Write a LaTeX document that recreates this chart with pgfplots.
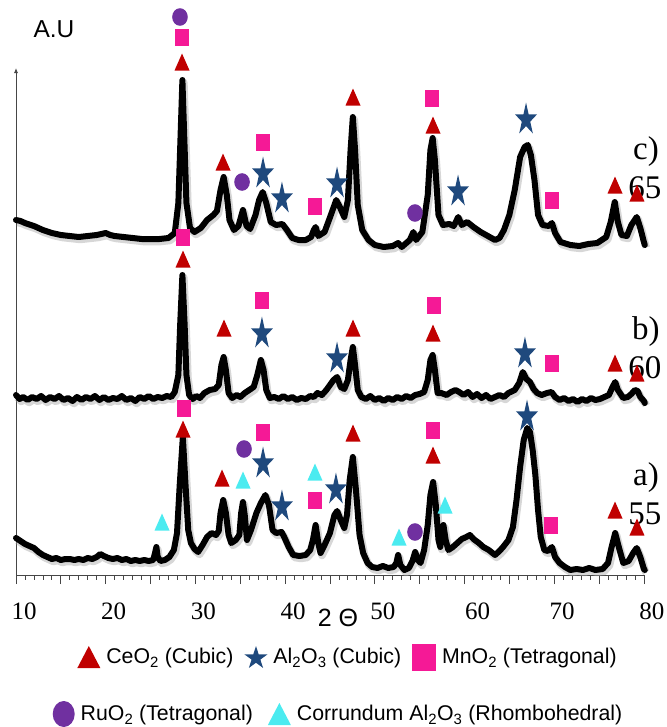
\documentclass[border=0pt]{standalone}
\usepackage{pgfplots}
\pgfplotsset{compat=1.18}
\usepackage{pgfplotstable}
\usepackage{fontspec}
\setmainfont{Liberation Serif}
\setsansfont{Liberation Sans}
\usetikzlibrary{arrows.meta}

\definecolor{cered}{RGB}{192,0,0}
\definecolor{alblue}{RGB}{31,73,125}
\definecolor{mnpink}{RGB}{245,25,150}
\definecolor{rupurple}{RGB}{112,48,160}
\definecolor{corcyan}{RGB}{75,235,240}
\definecolor{axgray}{RGB}{70,70,70}

% plot marks
\pgfdeclareplotmark{ptri}{%
  \pgfsetcornersarced{\pgfqpoint{1.5bp}{1.5bp}}%
  \pgfpathmoveto{\pgfqpoint{0bp}{8.5bp}}%
  \pgfpathlineto{\pgfqpoint{7.5bp}{-8.5bp}}%
  \pgfpathlineto{\pgfqpoint{-7.5bp}{-8.5bp}}%
  \pgfpathclose\pgfusepathqfill}
\pgfdeclareplotmark{psq}{%
  \pgfsetcornersarced{\pgfqpoint{2.5bp}{2.5bp}}%
  \pgfpathrectangle{\pgfqpoint{-7.3bp}{-8.5bp}}{\pgfqpoint{14.6bp}{17bp}}%
  \pgfusepathqfill}
\pgfdeclareplotmark{pcirc}{%
  \pgfpathellipse{\pgfpointorigin}{\pgfqpoint{7.8bp}{0bp}}{\pgfqpoint{0bp}{8.8bp}}%
  \pgfusepathqfill}
\pgfdeclareplotmark{pstar}{%
  \pgfpathmoveto{\pgfqpoint{0bp}{15.5bp}}%
  \pgfpathlineto{\pgfqpoint{-2.60bp}{3.68bp}}%
  \pgfpathlineto{\pgfqpoint{-11.03bp}{3.68bp}}%
  \pgfpathlineto{\pgfqpoint{-4.21bp}{-3.62bp}}%
  \pgfpathlineto{\pgfqpoint{-6.82bp}{-15.43bp}}%
  \pgfpathlineto{\pgfqpoint{0bp}{-8.13bp}}%
  \pgfpathlineto{\pgfqpoint{6.82bp}{-15.43bp}}%
  \pgfpathlineto{\pgfqpoint{4.21bp}{-3.62bp}}%
  \pgfpathlineto{\pgfqpoint{11.03bp}{3.68bp}}%
  \pgfpathlineto{\pgfqpoint{2.60bp}{3.68bp}}%
  \pgfpathclose\pgfusepathqfill}
% legend marks
\pgfdeclareplotmark{ltri}{%
  \pgfsetcornersarced{\pgfqpoint{1.5bp}{1.5bp}}%
  \pgfpathmoveto{\pgfqpoint{0bp}{11bp}}%
  \pgfpathlineto{\pgfqpoint{11.5bp}{-11bp}}%
  \pgfpathlineto{\pgfqpoint{-11.5bp}{-11bp}}%
  \pgfpathclose\pgfusepathqfill}
\pgfdeclareplotmark{lsq}{%
  \pgfsetcornersarced{\pgfqpoint{3bp}{3bp}}%
  \pgfpathrectangle{\pgfqpoint{-12bp}{-13.5bp}}{\pgfqpoint{24bp}{27bp}}%
  \pgfusepathqfill}
\pgfdeclareplotmark{lcirc}{%
  \pgfpathellipse{\pgfpointorigin}{\pgfqpoint{11bp}{0bp}}{\pgfqpoint{0bp}{13bp}}%
  \pgfusepathqfill}
\pgfdeclareplotmark{lstar}{%
  \pgfpathmoveto{\pgfqpoint{0bp}{10.95bp}}%
  \pgfpathlineto{\pgfqpoint{-2.72bp}{2.59bp}}%
  \pgfpathlineto{\pgfqpoint{-11.5bp}{2.59bp}}%
  \pgfpathlineto{\pgfqpoint{-4.39bp}{-2.58bp}}%
  \pgfpathlineto{\pgfqpoint{-7.11bp}{-10.94bp}}%
  \pgfpathlineto{\pgfqpoint{0bp}{-5.77bp}}%
  \pgfpathlineto{\pgfqpoint{7.11bp}{-10.94bp}}%
  \pgfpathlineto{\pgfqpoint{4.39bp}{-2.58bp}}%
  \pgfpathlineto{\pgfqpoint{11.5bp}{2.59bp}}%
  \pgfpathlineto{\pgfqpoint{2.72bp}{2.59bp}}%
  \pgfpathclose\pgfusepathqfill}

% ---------------- data ----------------
\pgfplotstableread{
x y
10 355
10.5 354
11 352
12 349
13 345
14 342
15 340
16 339
17 338
18 339
19 340
20 342
20.5 340
21 339
22 338
23 337
24 336
25 336
26 336
27 337
27.7 342
28.1 372
28.35 440
28.55 495
28.75 440
29.0 372
29.4 347
29.9 343
30.6 347
31.3 355
32.0 360
32.4 364
32.8 385
33.15 398
33.5 380
33.8 355
34.3 345
34.8 349
35.3 365
35.7 349
36.1 346
36.7 360
37.1 375
37.5 383
37.9 372
38.4 353
39.0 350
39.7 351
40.2 345
40.8 337
41.5 335
42.3 335
42.9 338
43.2 345
43.4 348
43.7 339
44.4 343
45.1 360
45.7 375
46.1 368
46.6 358
47.0 375
47.3 425
47.55 458
47.8 425
48.1 370
48.6 345
49.3 335
50 330
51 328
52 329
52.6 332
53 328
53.9 335
54.3 343
54.6 335
55.3 343
55.9 380
56.2 425
56.45 437
56.7 415
57.1 360
57.6 350
58.3 351
58.8 349
59.3 358
59.7 350
60.3 353
61.0 348
61.8 343
62.6 339
63.4 335
63.9 337
64.4 345
65.0 360
65.6 385
66.2 418
66.7 428
67.05 430
67.4 420
67.8 395
68.2 360
68.7 350
69.4 349
69.75 352
70.1 342
70.7 333
71.8 330
72.8 329
73.8 331
74.8 332
75.8 338
76.3 353
76.75 373
77.1 353
77.5 340
78.1 339
78.6 350
79.2 358
79.6 347
80.0 333
80.1 330
}\tracec

\pgfplotstableread{
x y
10 180
10.4 176
10.8 178
11.3 175
11.8 178
12.3 176
12.8 179
13.3 175
13.8 178
14.3 176
14.8 179
15.3 175
15.8 177
16.3 174
16.8 178
17.3 175
17.8 178
18.3 176
18.8 179
19.3 175
19.8 178
20.3 175
20.8 177
21.3 176
21.8 179
22.3 175
22.8 177
23.3 174
23.8 178
24.3 176
24.8 179
25.3 176
25.8 178
26.3 177
26.8 179
27.3 178
27.7 183
28.1 200
28.3 250
28.55 300
28.8 250
29.0 200
29.3 180
29.7 176
30.1 179
30.5 177
31.0 182
31.6 185
32.2 186
32.6 190
32.9 210
33.15 218
33.4 205
33.7 182
34.1 177
34.6 180
35.0 178
35.5 182
36.0 185
36.5 188
36.9 200
37.3 215
37.6 205
37.9 185
38.3 177
38.8 178
39.3 176
39.8 179
40.3 176
40.8 178
41.3 175
41.8 177
42.3 176
42.8 179
43.2 178
43.6 182
44.1 180
44.6 185
45.0 190
45.4 195
45.8 198
46.2 188
46.6 186
47.0 195
47.3 215
47.55 228
47.8 210
48.1 185
48.5 178
49.0 176
49.5 179
50.0 175
50.5 177
51.0 174
51.5 177
52.0 175
52.5 178
53.0 176
53.5 179
54.0 177
54.5 180
55.0 181
55.5 183
55.9 195
56.2 215
56.45 220
56.7 205
57.0 182
57.4 182
58.0 180
58.5 183
59.0 185
59.4 183
59.9 180
60.4 183
60.9 178
61.4 181
61.9 177
62.4 180
62.9 176
63.4 178
63.9 180
64.4 178
64.9 182
65.6 185
66.1 192
66.5 203
66.9 196
67.3 193
67.7 186
68.1 182
68.6 180
69.2 182
69.7 183
70.1 178
70.6 175
71.1 177
71.6 174
72.1 176
72.6 173
73.1 176
73.6 174
74.1 177
74.6 175
75.1 176
75.6 178
76.1 180
76.5 188
76.8 193
77.1 185
77.7 177
78.2 178
78.6 181
79.0 185
79.3 184
79.6 178
80.0 174
80.1 172
}\traceb

\pgfplotstableread{
x y
10.0 37
10.5 34
11.0 31
11.5 29
12.0 27
12.5 23
13.0 20
13.5 18
14.0 16
14.5 17
15.0 15
15.5 16
16.0 16
16.5 15
17.0 16
17.5 15
18.0 17
18.5 16
19.0 18
19.4 21
19.8 19
20.3 17
20.8 16
21.3 17
21.8 15
22.3 16
22.8 14
23.3 15
23.8 14
24.3 15
24.8 14
25.3 15
25.5 22
25.65 28
25.8 18
26.1 14
26.6 15
27.1 18
27.6 25
27.95 42
28.25 90
28.6 138
28.9 90
29.2 45
29.5 32
29.9 26
30.3 23
30.8 30
31.3 38
31.8 42
32.3 40
32.6 44
32.8 62
33.1 75
33.4 62
33.7 40
34.0 32
34.5 35
34.9 40
35.1 62
35.3 73
35.5 60
35.75 35
36.2 45
36.8 62
37.3 72
37.8 80
38.2 70
38.6 45
39.0 42
39.6 43
39.9 38
40.4 28
40.9 20
41.6 19
42.3 20
42.8 25
43.1 35
43.4 50
43.7 32
43.95 22
44.4 30
45.0 42
45.5 60
45.8 64
46.2 55
46.6 47
46.9 60
47.2 95
47.55 118
47.9 85
48.3 40
48.7 22
49.2 12
49.7 8
50.3 7
50.9 9
51.5 7
52.1 8
52.4 12
52.6 20
52.85 10
53.3 5
53.8 7
54.2 14
54.5 23
54.8 15
55.1 12
55.5 25
55.9 50
56.2 80
56.5 93
56.8 70
57.1 35
57.3 28
57.5 45
57.65 50
57.9 35
58.2 25
58.7 28
59.2 32
59.7 36
60.2 38
60.6 40
61.0 36
61.6 32
62.1 28
62.7 25
63.4 20
63.9 24
64.3 28
64.9 35
65.4 48
65.8 75
66.2 108
66.6 135
67.0 147
67.3 143
67.6 125
67.9 100
68.2 65
68.5 38
68.9 25
69.3 24
69.75 28
70.1 18
70.6 12
71.2 8
71.8 5
72.5 6
73.2 5
73.9 7
74.6 5
75.4 6
76.0 12
76.4 28
76.8 42
77.2 28
77.7 12
78.3 14
78.8 22
79.2 27
79.6 18
80.0 6
80.1 5
}\tracea

\begin{document}
\begin{tikzpicture}
\useasboundingbox (-16bp,-152bp) rectangle (651bp,575bp);
\begin{axis}[
  x=8.97bp, y=1bp,
  xmin=10, xmax=80, ymin=0, ymax=507,
  axis x line*=bottom, axis y line*=left,
  axis line style={axgray, line width=0.8bp},
  y axis line style={-{Latex[length=5bp,width=4bp]}},
  clip=false,
  tick align=outside,
  tick style={axgray, line width=0.8bp},
  major tick length=9bp, minor tick length=4.5bp,
  xtick={10,15,...,80},
  xticklabels={10,,20,,30,,40,,50,,\hspace*{10bp}\raisebox{-9bp}{60},,70,,80},
  minor x tick num=4,
  ytick=\empty,
  minor ytick={9.4,28.2,...,498.2},
  /pgf/number format/assume math mode=true,
  xticklabel style={font=\fontsize{25bp}{28bp}\selectfont, inner sep=0pt, anchor=north, yshift=-19bp, xshift=8bp},
  legend style={at={(axis cs:46.9,-82)}, anchor=center, draw=none, fill=none,
    legend columns=-1, font=\sffamily\fontsize{21.3bp}{24bp}\selectfont,
    nodes={inner sep=0pt},
    /tikz/every odd column/.append style={column sep=6bp},
    /tikz/every even column/.append style={column sep=11bp}},
  legend image code/.code={\draw[#1] plot coordinates {(0bp,0bp)};},
]
% traces: shadow + line
\addplot[forget plot, gray!70, opacity=0.45, line width=7.5bp, line join=round, xshift=1.5bp, yshift=-2.5bp] table {\tracec};
\addplot[forget plot, black, line width=6bp, line join=round, line cap=round] table {\tracec};
\addplot[forget plot, gray!70, opacity=0.45, line width=7.5bp, line join=round, xshift=1.5bp, yshift=-2.5bp] table {\traceb};
\addplot[forget plot, black, line width=6bp, line join=round, line cap=round] table {\traceb};
\addplot[forget plot, gray!70, opacity=0.45, line width=7.5bp, line join=round, xshift=1.5bp, yshift=-2.5bp] table {\tracea};
\addplot[forget plot, black, line width=6bp, line join=round, line cap=round] table {\tracea};

% CeO2 triangles
\addplot[forget plot, only marks, mark=ptri, cered] coordinates {
 (28.51,513) (33.08,413) (47.57,478) (56.49,450) (76.78,390) (79.23,382)
 (28.62,316) (33.19,247) (47.57,247) (56.49,242) (76.78,212) (79.23,202)
 (28.62,146) (32.97,97) (47.57,142) (56.49,120) (76.78,65) (79.23,48)};
% MnO2 squares
\addplot[forget plot, only marks, mark=psq, mnpink] coordinates {
 (28.51,538) (37.54,433) (43.33,369) (56.38,477) (69.75,375)
 (28.62,338) (37.42,275) (56.6,270) (69.75,212)
 (28.73,167) (37.54,143) (43.33,75) (56.49,145) (69.64,50)};
% Al2O3 stars
\addplot[forget plot, only marks, mark=pstar, alblue] coordinates {
 (37.54,403) (39.65,378) (45.79,393) (59.28,385) (66.86,457)
 (37.42,243) (45.79,218) (66.74,223)
 (37.54,113) (39.65,70) (45.67,87) (66.97,160)};
% RuO2 circles
\addplot[forget plot, only marks, mark=pcirc, rupurple] coordinates {
 (28.28,558) (35.2,393) (54.48,362)
 (35.42,126) (54.48,43)};
% Corundum triangles
\addplot[forget plot, only marks, mark=ptri, corcyan] coordinates {
 (26.28,53) (35.31,95) (43.33,103) (52.7,38) (57.83,70)};

\addlegendimage{only marks, mark=ltri, cered}
\addlegendentry{CeO\textsubscript{2} (Cubic)}
\addlegendimage{only marks, mark=lstar, alblue}
\addlegendentry{Al\textsubscript{2}O\textsubscript{3} (Cubic)}
\addlegendimage{only marks, mark=lsq, mnpink}
\addlegendentry{MnO\textsubscript{2} (Tetragonal)}

% labels
\node[font=\sffamily\fontsize{24.5bp}{28bp}\selectfont] at (axis cs:14.23,546) {A.U};
\node[font=\sffamily\fontsize{25bp}{28bp}\selectfont] at (axis cs:45.9,-43) {2 Θ};
\node[font=\fontsize{33bp}{36bp}\selectfont] at (axis cs:80.23,423) {c)};
\node[font=\fontsize{33bp}{36bp}\selectfont] at (axis cs:80.12,387) {65};
\node[font=\fontsize{33bp}{36bp}\selectfont] at (axis cs:80.23,243) {b)};
\node[font=\fontsize{33bp}{36bp}\selectfont] at (axis cs:80.12,207) {60};
\node[font=\fontsize{33bp}{36bp}\selectfont] at (axis cs:80.23,97) {a)};
\node[font=\fontsize{33bp}{36bp}\selectfont] at (axis cs:80.12,61) {55};
\end{axis}
\begin{axis}[
  x=8.97bp, y=1bp,
  xmin=10, xmax=80, ymin=0, ymax=507,
  hide axis, clip=false,
  legend style={at={(axis cs:45.84,-139)}, anchor=center, draw=none, fill=none,
    legend columns=-1, font=\sffamily\fontsize{21.3bp}{24bp}\selectfont,
    nodes={inner sep=0pt},
    /tikz/every odd column/.append style={column sep=6bp},
    /tikz/every even column/.append style={column sep=15bp}},
  legend image code/.code={\draw[#1] plot coordinates {(0bp,0bp)};},
]
\addlegendimage{only marks, mark=lcirc, rupurple}
\addlegendentry{RuO\textsubscript{2} (Tetragonal)}
\addlegendimage{only marks, mark=ltri, corcyan}
\addlegendentry{Corrundum Al\textsubscript{2}O\textsubscript{3} (Rhombohedral)}
\end{axis}
\end{tikzpicture}
\end{document}
